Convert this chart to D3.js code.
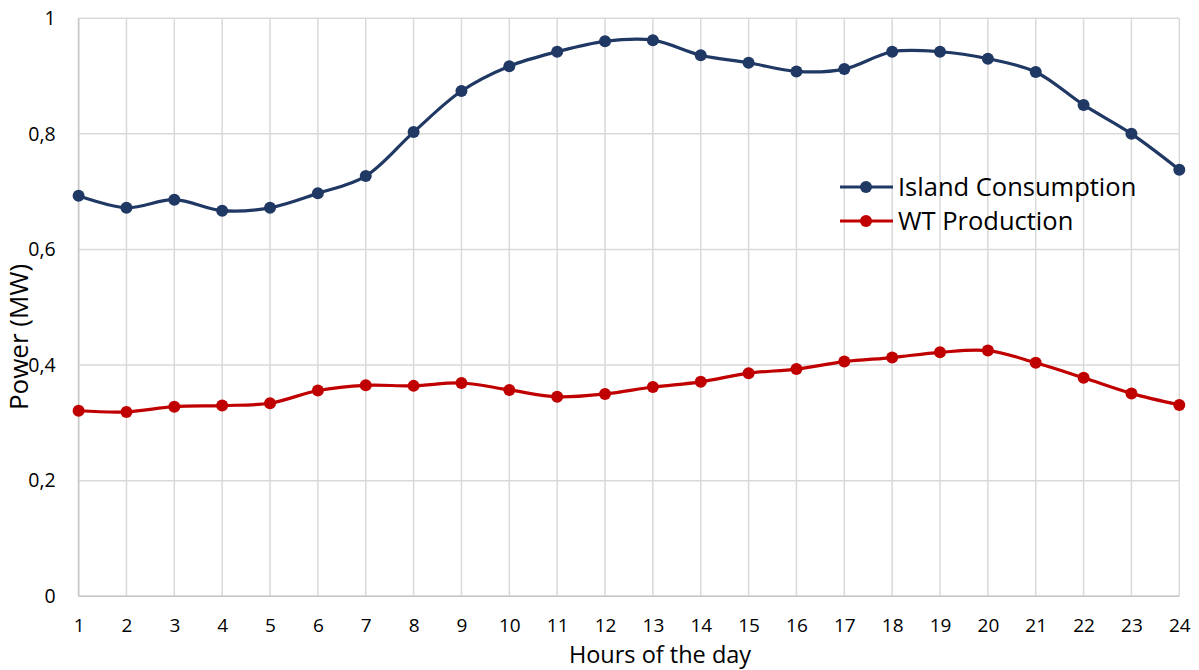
<!DOCTYPE html>
<html>
<head>
<meta charset="utf-8">
<script src="https://cdn.jsdelivr.net/npm/d3@7"></script>
<style>
  body { margin: 0; background: #fff; }
  svg { display: block; font-family: "Open Sans", sans-serif; font-variant-ligatures: none; }
</style>
</head>
<body>
<svg id="chart" width="1199" height="670"></svg>
<script>
// Hourly profile of island demand and wind-turbine output
const hours = d3.range(1, 25);
const islandConsumption = [0.693, 0.672, 0.686, 0.667, 0.672, 0.697, 0.727, 0.803, 0.874, 0.917,
  0.942, 0.960, 0.962, 0.936, 0.923, 0.908, 0.912, 0.942, 0.942, 0.930, 0.907, 0.850, 0.800, 0.738];
const wtProduction = [0.321, 0.319, 0.328, 0.330, 0.334, 0.356, 0.365, 0.364, 0.369, 0.357,
  0.345, 0.350, 0.362, 0.371, 0.386, 0.393, 0.406, 0.413, 0.422, 0.425, 0.404, 0.378, 0.351, 0.331];
const yTicks = [0, 0.2, 0.4, 0.6, 0.8, 1];
const yTickLabels = ["0", "0,2", "0,4", "0,6", "0,8", "1"];
const seriesNames = ["Island Consumption", "WT Production"];
const seriesColors = ["#203864", "#C00000"];

const svg = d3.select("#chart");
const bounds = { left: 78.6, right: 1179.3, top: 18.2, bottom: 596.3 };

const x = d3.scaleLinear().domain([1, 24]).range([bounds.left, bounds.right]);
const y = d3.scaleLinear().domain([0, 1]).range([bounds.bottom, bounds.top]);

// grid
const grid = svg.append("g");
grid.selectAll("line.v").data(hours).join("line")
  .attr("x1", d => x(d)).attr("x2", d => x(d))
  .attr("y1", y(1)).attr("y2", y(0))
  .attr("stroke", "#d9d9d9").attr("stroke-width", 1.5);
grid.selectAll("line.h").data(yTicks).join("line")
  .attr("x1", x(1)).attr("x2", x(24))
  .attr("y1", d => y(d)).attr("y2", d => y(d))
  .attr("stroke", "#d9d9d9").attr("stroke-width", 1.5);
// axis baselines
svg.append("line").attr("x1", x(1)).attr("x2", x(24)).attr("y1", y(0)).attr("y2", y(0))
  .attr("stroke", "#c8c8c8").attr("stroke-width", 1.5);
svg.append("line").attr("x1", x(1)).attr("x2", x(1)).attr("y1", y(0)).attr("y2", y(1))
  .attr("stroke", "#c8c8c8").attr("stroke-width", 1.5);

// tick labels via d3 axes
const xAxis = d3.axisBottom(x).tickValues(hours).tickSize(0).tickPadding(22).tickFormat(d3.format("d"));
const xg = svg.append("g").attr("transform", `translate(0,${y(0)})`).call(xAxis);
xg.select(".domain").remove();
xg.selectAll("text").attr("font-size", 19).attr("fill", "#000").attr("font-family", "'Open Sans', sans-serif");

const yAxis = d3.axisLeft(y).tickValues(yTicks).tickSize(0).tickPadding(23)
  .tickFormat((d, i) => yTickLabels[i]);
const yg = svg.append("g").attr("transform", `translate(${x(1)},0)`).call(yAxis);
yg.select(".domain").remove();
yg.selectAll("text").attr("font-size", 19.5).attr("fill", "#000").attr("font-family", "'Open Sans', sans-serif");

// titles
svg.append("text").attr("x", 660).attr("y", 663).attr("text-anchor", "middle")
  .attr("font-size", 23.5).attr("fill", "#000").text("Hours of the day");
svg.append("text").attr("transform", "translate(28,337) rotate(-90)").attr("text-anchor", "middle")
  .attr("font-size", 26).attr("fill", "#000").text("Power (MW)");

// series
const line = d3.line().x((d, i) => x(hours[i])).y(d => y(d)).curve(d3.curveCatmullRom.alpha(0.5));
[islandConsumption, wtProduction].forEach((vals, k) => {
  svg.append("path").datum(vals).attr("d", line)
    .attr("fill", "none").attr("stroke", seriesColors[k]).attr("stroke-width", 3.2);
  svg.append("g").selectAll("circle").data(vals).join("circle")
    .attr("cx", (d, i) => x(hours[i])).attr("cy", d => y(d)).attr("r", 6)
    .attr("fill", seriesColors[k]);
});

// legend
const legend = svg.append("g");
seriesNames.forEach((name, k) => {
  const ly = 187 + k * 34;
  legend.append("line").attr("x1", 840).attr("x2", 893).attr("y1", ly).attr("y2", ly)
    .attr("stroke", seriesColors[k]).attr("stroke-width", 3.2);
  legend.append("circle").attr("cx", 866).attr("cy", ly).attr("r", 6).attr("fill", seriesColors[k]);
  legend.append("text").attr("x", 898).attr("y", ly + 9).attr("font-size", 25.5).attr("fill", "#000").text(name);
});
</script>
</body>
</html>
